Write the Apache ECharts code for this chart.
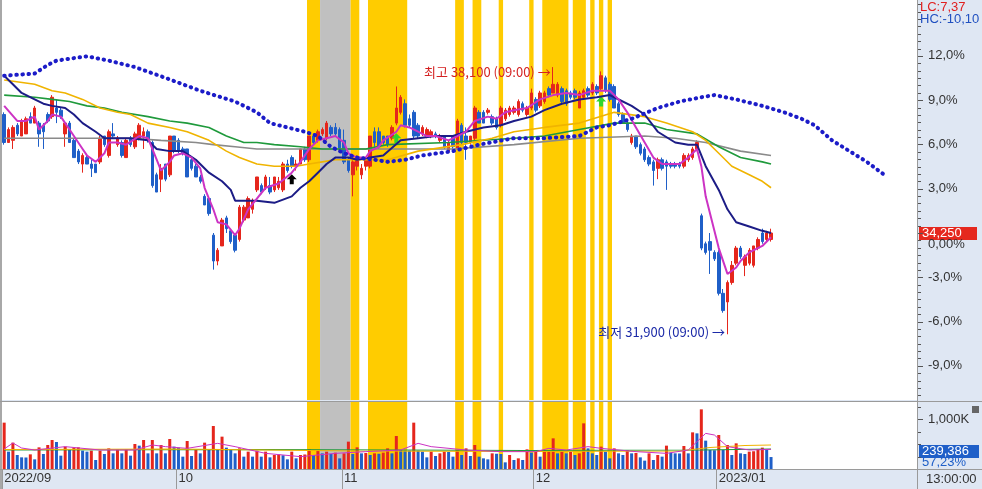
<!DOCTYPE html>
<html><head><meta charset="utf-8">
<script src="https://cdn.jsdelivr.net/npm/echarts@6/dist/echarts.min.js"></script>
<style>html,body{margin:0;padding:0;background:#fff}#c{width:982px;height:489px}</style>
</head><body><div id="c"></div>
<script>
const BASE = 34250;
const NCAT = 210;
const monthIdx = [0, 40, 78, 122, 164];
const monthLabels = ['2022/09', '10', '11', '12', '2023/01'];
const pctLabels = [-9, -6, -3, 0, 3, 6, 9, 12];
const volTicks = [250000, 500000, 750000, 1000000, 1250000];
const volLabels = [1000000];

// [open, close, low, high]
const candles = [
[37000,36350,36300,37050],[36350,36650,36350,36700],[36400,36700,36200,36750],[36750,36550,36500,36800],[36500,36850,36500,36900],
[36550,36900,36550,36950],[36950,36800,36800,37050],[36800,37150,36800,37200],[36800,36550,36250,36850],[36750,36600,36200,36800],
[37000,36850,36800,37050],[36950,37400,36900,37450],[37150,37050,36800,37350],[37100,36950,36900,37150],[36550,36800,36250,36850],
[36800,36350,36350,36850],[36400,36000,36000,36450],[36150,35900,35850,36200],[35850,36050,35650,36100],[36000,35850,35850,36050],
[35850,35750,35550,35950],[35850,35650,35650,35850],[35900,36450,35850,36500],[36500,36300,36250,36500],[36050,36600,36000,36650],
[36550,36500,36450,36800],[36300,36450,36250,36500],[36350,36050,36000,36400],[36000,36400,36000,36450],[36450,36300,36250,36500],
[36250,36550,36200,36600],[36450,36750,36400,36800],[36500,36600,36200,36700],[36600,36400,36350,36650],[36350,35350,35300,36400],
[35600,35200,35200,35650],[35500,35750,35200,35850],[35850,35500,35450,35850],[35600,36500,35550,36500],[36500,36150,36100,36500],
[36400,36150,36100,36450],[36200,36100,36050,36250],[36200,35550,35550,36200],[35950,35750,35700,36000],[35800,35550,35550,35850],
[35550,35450,35400,35600],[35100,34900,34900,35150],[35050,34700,34650,35100],[34200,33600,33400,34250],[33600,33850,33500,33900],
[33950,34550,33950,34600],[34600,34350,34250,34650],[34300,34050,34000,34350],[34200,33850,33800,34250],[34100,34850,34050,34900],
[34550,34850,34500,34900],[34600,35050,34600,35100],[34800,35000,34700,35050],[35250,35550,35200,35550],[35350,35200,35150,35400],
[35300,35550,35250,35600],[35350,35200,35150,35550],[35250,35550,35200,35550],[35300,35450,35250,35550],[35250,35850,35200,35900],
[35850,35700,35650,35950],[36000,35800,35750,36050],[35800,35850,35700,35950],[35850,36200,35850,36200],[36200,35950,35900,36250],
[35950,36500,35900,36500],[36500,36350,36300,36550],[36400,36600,36350,36650],[36550,36650,36500,36700],[36450,36800,36400,36850],
[36700,36550,36500,36750],[36700,36550,36500,36800],[36650,36200,36150,36700],[36400,35900,35850,36650],[35950,35700,35650,36000],
[35600,35900,35100,35950],[35800,36000,35700,36050],[35600,35750,35500,35850],[35800,35950,35700,36000],[35800,36500,35750,36500],
[36600,36350,36250,36700],[36600,36250,36200,36700],[36500,36350,36300,36500],[36500,36300,36250,36500],[36450,36700,36400,36750],
[36800,37150,36750,37650],[37050,37400,37000,37450],[37250,36750,36700,37350],[36900,36750,36700,37000],[37050,36500,36450,37100],
[36750,36500,36450,36800],[36550,36700,36500,36750],[36500,36650,36450,36700],[36500,36600,36450,36650],[36550,36500,36450,36600],
[36400,36500,36350,36550],[36500,36250,36200,36500],[36150,36350,36100,36400],[36500,36250,36200,36500],[36200,36850,36200,36900],
[36750,36350,36300,36800],[36500,36350,35950,36700],[36350,36500,36300,36500],[36450,37150,36400,37200],[37050,36800,36800,37100],
[37050,36800,36800,37100],[37050,37100,37000,37150],[36950,36800,36750,37000],[36900,36700,36650,36950],[36750,37150,36700,37200],
[36900,37100,36850,37150],[37000,37150,36950,37200],[37050,37150,37000,37200],[37000,37300,36950,37350],[37250,37100,37050,37300],
[37000,37150,36950,37200],[37150,37500,37100,37600],[37350,37100,37050,37400],[37200,37500,37150,37550],[37300,37500,37250,37550],
[37600,37450,37400,37650],[37500,37700,37500,38100],[37450,37700,37400,37750],[37600,37300,37250,37650],[37550,37250,37200,37600],
[37500,37400,37350,37550],[37550,37400,37350,37600],[37150,37500,37150,37550],[37400,37550,37350,37600],[37600,37450,37400,37650],
[37500,37700,37450,37750],[37650,37500,37450,37700],[37600,37900,37550,38000],[37850,37550,37500,37900],[37700,37350,37300,37750],
[37650,37150,37150,37700],[37250,37000,36950,37300],[37000,36800,36800,37050],[36800,36650,36600,36850],[36350,36500,36300,36550],
[36500,36250,36200,36500],[36300,36100,36050,36350],[36200,35950,35900,36250],[36000,35850,35800,36050],[35900,35700,35350,35950],
[35750,35950,35500,36000],[35950,35750,35700,36000],[35900,35800,35250,35950],[35850,35800,35750,35900],[35850,35800,35750,35900],
[35850,35800,35750,35900],[35800,36050,35750,36100],[35950,36050,35900,36100],[36000,36200,35950,36250],[36200,36350,36150,36400],
[34650,33900,33850,34700],[34000,33800,33750,34050],[34050,33850,33300,34250],[33800,33650,33600,33850],[33800,32850,32800,33850],
[32850,32450,32400,32950],[32650,33100,31900,33150],[33100,33500,33050,33600],[33550,33900,33500,33950],[33900,33700,33650,33950],
[33500,33700,33250,33750],[33550,33850,33500,33900],[33500,33950,33450,33950],[33900,34100,33850,34150],[34250,34050,34000,34350],
[34100,34250,34050,34300],[34100,34250,34050,34350]
];

const volumes = [
927000,347000,527000,280000,233000,230000,293000,193000,433000,300000,
480000,580000,540000,267000,447000,380000,427000,433000,367000,347000,
367000,180000,367000,300000,413000,313000,393000,313000,393000,267000,
500000,467000,580000,313000,580000,313000,480000,313000,600000,447000,
427000,247000,560000,260000,393000,313000,527000,380000,860000,393000,
647000,427000,393000,313000,413000,247000,347000,247000,367000,247000,
347000,233000,280000,290000,275000,193000,347000,213000,280000,290000,
400000,280000,367000,313000,347000,300000,327000,213000,313000,547000,
300000,433000,313000,320000,280000,313000,305000,327000,413000,313000,
660000,380000,
367000,367000,927000,367000,347000,233000,347000,260000,313000,347000,
340000,247000,380000,280000,413000,260000,480000,247000,213000,193000,
313000,305000,300000,133000,280000,180000,213000,180000,393000,327000,
347000,247000,347000,367000,613000,313000,347000,313000,347000,280000,
313000,913000,413000,313000,280000,447000,347000,213000,413000,313000,
280000,380000,313000,320000,233000,167000,313000,180000,280000,247000,
467000,327000,313000,310000,460000,313000,733000,713000,1193000,567000,
380000,375000,680000,380000,480000,280000,513000,313000,300000,347000,
355000,393000,427000,393000,239386
];

// lines: [category index, price]
const ma5 = [[0,37200],[3,36850],[5,36850],[7,36950],[8,36650],[10,36850],[11,37000],[13,36950],[14,36800],[16,36500],[18,36200],[19,36050],[21,35900],[23,36100],[24,36350],[26,36350],[28,36300],[31,36500],[33,36450],[35,35950],[36,35700],[38,35900],[39,36050],[41,36100],[43,36000],[45,35750],[46,35300],[48,34800],[49,34500],[51,34450],[53,34200],[54,34350],[56,34800],[58,35050],[60,35300],[63,35400],[66,35650],[68,35900],[70,36200],[72,36400],[74,36450],[76,36500],[78,36350],[79,36100],[81,36000],[83,36000],[84,36150],[86,36250],[87,36400],[90,36600],[91,36750],[93,36700],[95,36600],[97,36500],[99,36500],[102,36400],[104,36500],[106,36600],[108,36850],[111,36950],[113,36900],[115,37050],[117,37100],[120,37150],[123,37350],[126,37450],[129,37500],[132,37450],[135,37550],[137,37550],[139,37550],[141,37350],[143,37050],[145,36700],[147,36350],[149,36000],[151,35850],[153,35850],[155,35850],[157,36000],[159,36200],[160,35800],[161,35100],[163,34300],[164,33900],[166,33300],[168,33450],[169,33600],[171,33800],[174,33950],[176,34150]];
const ma20 = [[0,37900],[1,37800],[4,37500],[7,37350],[9,37250],[11,37200],[14,37150],[16,37000],[18,36800],[21,36600],[23,36450],[27,36450],[29,36450],[33,36400],[35,36200],[38,36150],[41,36150],[44,35950],[47,35650],[50,35450],[52,35250],[53,35000],[56,35000],[58,35000],[62,34950],[66,35100],[68,35300],[70,35450],[72,35650],[74,35850],[76,36000],[79,36000],[81,35950],[84,36000],[87,36050],[91,36400],[95,36450],[99,36500],[103,36500],[106,36600],[110,36700],[114,36750],[117,36850],[121,36950],[124,37100],[128,37250],[132,37350],[136,37400],[139,37450],[140,37400],[144,37200],[147,37000],[150,36600],[154,36350],[157,36300],[159,36300],[161,35800],[164,35250],[166,34800],[168,34500],[171,34400],[174,34300],[176,34250]];
const ma60 = [[0,37800],[7,37700],[11,37550],[14,37500],[18,37350],[22,37150],[26,37050],[29,37000],[33,36800],[38,36700],[42,36600],[47,36400],[51,36150],[54,36000],[58,35850],[62,35800],[67,35800],[70,35850],[73,35900],[76,35950],[83,35950],[88,35950],[95,36150],[105,36300],[112,36450],[117,36600],[124,36700],[132,36800],[140,37050],[147,36950],[152,36800],[158,36600],[161,36400],[164,36100],[167,35800],[171,35600],[174,35450],[176,35300]];
const ma120 = [[0,37450],[7,37400],[11,37350],[15,37300],[19,37200],[23,37150],[27,37050],[33,36950],[38,36850],[42,36800],[47,36700],[51,36500],[55,36350],[58,36350],[62,36300],[68,36250],[73,36200],[83,36200],[88,36300],[102,36350],[117,36450],[124,36500],[132,36650],[140,36800],[147,36800],[152,36650],[159,36550],[164,36250],[169,36000],[174,35900],[176,35850]];
const ma240 = [[0,36450],[15,36450],[29,36450],[36,36400],[44,36350],[48,36300],[53,36250],[58,36200],[75,36200],[88,36200],[103,36200],[117,36300],[132,36450],[147,36500],[154,36450],[161,36350],[169,36150],[176,36050]];
const leadSpan = [[0,37900],[7,37950],[10,38150],[12,38250],[19,38350],[24,38250],[30,38100],[37,37850],[45,37550],[53,37300],[58,37050],[61,36800],[65,36700],[69,36600],[72,36500],[75,36250],[78,36100],[81,36000],[85,35950],[88,35900],[92,35950],[96,36050],[103,36150],[109,36300],[117,36450],[124,36450],[132,36500],[136,36700],[139,36750],[144,36900],[150,37150],[155,37300],[160,37400],[163,37450],[168,37350],[174,37200],[179,37050],[183,36900],[186,36750],[190,36400],[194,36150],[198,35900],[202,35600]];
const volMa5 = [[0,400000],[2,520000],[4,420000],[7,380000],[14,447000],[22,380000],[30,380000],[34,480000],[37,447000],[42,413000],[49,513000],[53,447000],[60,313000],[68,247000],[76,313000],[83,347000],[91,380000],[95,513000],[98,447000],[106,380000],[114,347000],[122,347000],[125,413000],[129,380000],[134,447000],[137,413000],[145,347000],[152,313000],[157,380000],[161,713000],[163,680000],[166,447000],[171,380000],[176,393000]];
const volMa20 = [[0,390000],[40,400000],[80,360000],[120,350000],[155,360000],[162,430000],[170,470000],[176,480000]];
const volMa60 = [[0,380000],[60,390000],[120,370000],[160,380000],[176,400000]];

// highlighted ranges: [start, end, kind] kind 0 = yellow, 1 = grey
const bands = [[70,72,0],[73,79,1],[80,81,0],[84,92,0],[104,105,0],[108,109,0],[114,114,0],[121,121,0],[124,129,0],[131,133,0],[135,135,0],[137,137,0],[139,139,0]];

const signals = [[66,35500,'#000000'],[90,36450,'#2ed62e'],[137,37300,'#2ed62e']];
const hiPoint = [126, 38100, '최고 38,100 (09:00) →'];
const loPoint = [166, 31900, '최저 31,900 (09:00) →'];
const lastVolText = ['239,386', '57,23%'];

// ---------- build ----------
const PX_PER_PCT = 14.76;
const WON_PER_PX = BASE / 100 / PX_PER_PCT;
const PMAX = BASE + 233 * WON_PER_PX;
const PMIN = BASE - 167 * WON_PER_PX;
const pToPrice = p => BASE * (1 + p / 100);
const cats = Array.from({length: NCAT}, (_, i) => String(i));
const tickPcts = [];
for (let p = -11; p <= 15.5; p += 0.5) tickPcts.push(p);

const RED = '#e5261c', BLUE = '#1f5fc8';
const volData = volumes.map((v, i) => ({value: v, itemStyle: {color: (i === 0 || v > volumes[i - 1]) ? RED : BLUE}}));
const FONT = "'Liberation Sans Narrow','Liberation Sans',sans-serif";
const TFONT = "13px 'Liberation Sans Narrow','Liberation Sans',sans-serif";
const lastClose = candles[candles.length - 1][1];

function renderBand(params, api) {
  const s = api.value(0), e = api.value(1);
  const w = api.size([1, 0])[0];
  const x0 = api.coord([s, 0])[0] - w / 2;
  const x1 = api.coord([e, 0])[0] + w / 2;
  const cs = params.coordSys;
  return {type: 'rect', shape: {x: x0, y: cs.y, width: x1 - x0, height: cs.height},
    style: {fill: api.value(2) === 1 ? '#c0c0c0' : '#ffcc00'}};
}
// tick marks on the right edge of a grid, positioned by the axis scale
function renderTick(params, api) {
  const cs = params.coordSys;
  const y = Math.round(api.coord([0, api.value(1)])[1]) + 0.5;
  const x = cs.x + cs.width + 1;
  const len = api.value(2) ? 5 : 3;
  return {type: 'line', shape: {x1: x, y1: y, x2: x + len, y2: y}, style: {stroke: '#555', lineWidth: 1}};
}
const arrowPath = 'path://M5,0 L10,5 L7,5 L7,10 L3,10 L3,5 L0,5 Z';

const lineS = (name, data, color, width, extra) => Object.assign({
  name, type: 'line', xAxisIndex: 0, yAxisIndex: 0, data, symbol: 'none', showSymbol: false,
  lineStyle: {color, width}, z: 5, silent: true
}, extra || {});

const option = {
  animation: false,
  backgroundColor: '#dfe7f3',
  grid: [
    {left: 2, top: 0, width: 915, height: 400, show: true, backgroundColor: '#ffffff', borderWidth: 0},
    {left: 2, top: 402, width: 915, height: 67, show: true, backgroundColor: '#ffffff', borderWidth: 0}
  ],
  xAxis: [
    {type: 'category', gridIndex: 0, data: cats, boundaryGap: true, show: false},
    {type: 'category', gridIndex: 1, data: cats, boundaryGap: true,
      axisLine: {show: true, lineStyle: {color: '#9a9a9a'}},
      axisTick: {show: true, length: 20, interval: (i) => monthIdx.includes(i), lineStyle: {color: '#9a9a9a'}},
      axisLabel: {interval: (i) => monthIdx.includes(i), formatter: (v, i) => monthLabels[monthIdx.indexOf(Number(v))] || '',
        align: 'left', margin: 3, color: '#333', fontSize: 13, fontFamily: FONT}}
  ],
  yAxis: [
    {type: 'value', gridIndex: 0, position: 'right', min: PMIN, max: PMAX,
      axisLine: {show: true, lineStyle: {color: '#9a9a9a'}}, splitLine: {show: false}, axisTick: {show: false},
      axisLabel: {customValues: pctLabels.map(pToPrice), margin: 11, color: '#333', fontSize: 13, fontFamily: FONT,
        formatter: v => {
          const p = (v / BASE - 1) * 100;
          if (Math.abs(p) < 0.01) return '{z|0,00%}';
          return p.toFixed(1).replace('.', ',') + '%';
        },
        rich: {z: {padding: [22, 0, 0, 0], color: '#333', fontSize: 13, fontFamily: FONT}}}
    },
    {type: 'value', gridIndex: 1, position: 'right', min: 0, max: 1340000,
      axisLine: {show: true, lineStyle: {color: '#9a9a9a'}}, splitLine: {show: false}, axisTick: {show: false},
      axisLabel: {customValues: volLabels, margin: 11, color: '#333', fontSize: 13, fontFamily: FONT,
        formatter: v => (v / 1000).toLocaleString('en-US') + 'K'}}
  ],
  series: [
    {type: 'custom', xAxisIndex: 0, yAxisIndex: 0, renderItem: renderBand, data: bands, encode: {x: [0, 1]}, z: 1, silent: true},
    {type: 'custom', xAxisIndex: 1, yAxisIndex: 1, renderItem: renderBand, data: bands, encode: {x: [0, 1]}, z: 1, silent: true},
    {type: 'custom', xAxisIndex: 0, yAxisIndex: 0, renderItem: renderTick, clip: false, z: 20, silent: true,
      data: tickPcts.map(p => [0, pToPrice(p), pctLabels.includes(p) ? 1 : 0]), encode: {x: 0, y: 1}},
    {type: 'custom', xAxisIndex: 1, yAxisIndex: 1, renderItem: renderTick, clip: false, z: 20, silent: true,
      data: volTicks.map(v => [0, v, volLabels.includes(v) ? 1 : 0]), encode: {x: 0, y: 1}},
    {name: 'price', type: 'candlestick', xAxisIndex: 0, yAxisIndex: 0, data: candles, barWidth: 3, z: 4,
      itemStyle: {color: RED, color0: BLUE, borderColor: RED, borderColor0: BLUE, borderWidth: 1},
      markPoint: {silent: true, data: [
        ...signals.map(s => ({coord: [s[0], s[1]], symbol: arrowPath, symbolSize: [10, 10], itemStyle: {color: s[2]}, label: {show: false}})),
        {coord: [hiPoint[0], hiPoint[1]], symbol: 'circle', symbolSize: 1, itemStyle: {color: 'rgba(0,0,0,0)'},
          label: {show: true, position: 'left', distance: 2, offset: [0, 5], formatter: hiPoint[2], color: '#d42222', fontSize: 13, fontFamily: "'Noto Sans CJK KR',sans-serif"}},
        {coord: [loPoint[0], loPoint[1]], symbol: 'circle', symbolSize: 1, itemStyle: {color: 'rgba(0,0,0,0)'},
          label: {show: true, position: 'left', distance: 2, offset: [0, -2], formatter: loPoint[2], color: '#1c2aa8', fontSize: 13, fontFamily: "'Noto Sans CJK KR',sans-serif"}}
      ]}
    },
    lineS('ma240', ma240, '#8a8a8a', 1.6),
    lineS('ma120', ma120, '#1f9a3c', 1.6),
    lineS('ma60', ma60, '#f0b400', 1.6),
    lineS('ma20', ma20, '#1c1c86', 2),
    lineS('ma5', ma5, '#cc33c4', 2),
    lineS('lead', leadSpan, '#1c1cc8', 4, {lineStyle: {color: '#1c1cc8', width: 4, type: [0.5, 5.6], cap: 'round'}, z: 6}),
    {name: 'vol', type: 'bar', xAxisIndex: 1, yAxisIndex: 1, data: volData, barWidth: 3, z: 3, silent: true},
    {type: 'line', xAxisIndex: 1, yAxisIndex: 1, data: volMa60, symbol: 'none', lineStyle: {color: '#1f9a3c', width: 1.2}, z: 5, silent: true},
    {type: 'line', xAxisIndex: 1, yAxisIndex: 1, data: volMa20, symbol: 'none', lineStyle: {color: '#f0b400', width: 1.2}, z: 5, silent: true},
    {type: 'line', xAxisIndex: 1, yAxisIndex: 1, data: volMa5, symbol: 'none', lineStyle: {color: '#cc33c4', width: 1}, z: 5, silent: true}
  ],
  graphic: [
    {type: 'rect', shape: {x: 0, y: 0, width: 2, height: 489}, style: {fill: '#a8a8a8'}, z: 100, silent: true},
    {type: 'line', shape: {x1: 917.5, y1: 0, x2: 917.5, y2: 489}, style: {stroke: '#9a9a9a', lineWidth: 1}, z: 100, silent: true},
    {type: 'line', shape: {x1: 0, y1: 401.5, x2: 982, y2: 401.5}, style: {stroke: '#9a9a9a', lineWidth: 1}, z: 100, silent: true},
    {type: 'line', shape: {x1: 0, y1: 469.5, x2: 982, y2: 469.5}, style: {stroke: '#9a9a9a', lineWidth: 1}, z: 100, silent: true},
    {type: 'text', x: 920, y: 1, style: {text: 'LC:7,37', fill: '#e02020', font: TFONT}, z: 100, silent: true},
    {type: 'text', x: 920, y: 13, style: {text: 'HC:-10,10', fill: '#2050c0', font: TFONT}, z: 100, silent: true},
    {type: 'text', x: 926, y: 473, style: {text: '13:00:00', fill: '#333', font: TFONT}, z: 100, silent: true},
    {type: 'rect', shape: {x: 972, y: 406, width: 7, height: 7}, style: {fill: '#666'}, z: 100, silent: true},
    {type: 'group', z: 100, silent: true, children: [
      {type: 'rect', shape: {x: 919, y: 227, width: 58, height: 13}, style: {fill: '#e5281e'}},
      {type: 'text', x: 922, y: 227, style: {text: lastClose.toLocaleString('en-US'), fill: '#fff', font: TFONT}}
    ]},
    {type: 'group', z: 100, silent: true, children: [
      {type: 'rect', shape: {x: 919, y: 445, width: 60, height: 13}, style: {fill: BLUE}},
      {type: 'text', x: 922, y: 445, style: {text: lastVolText[0], fill: '#fff', font: TFONT}},
      {type: 'text', x: 922, y: 456, style: {text: lastVolText[1], fill: BLUE, font: TFONT}}
    ]}
  ]
};
const chart = echarts.init(document.getElementById('c'));
chart.setOption(option);
</script>
</body></html>
